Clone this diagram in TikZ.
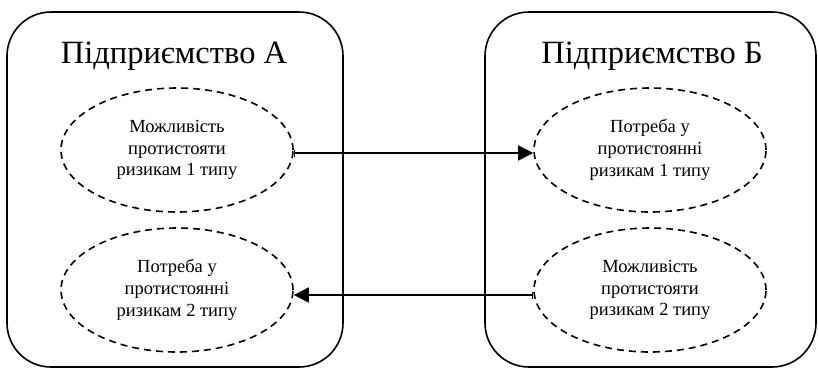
\documentclass[tikz,border=0pt]{standalone}
\usepackage{fontspec}
\setmainfont{Liberation Serif}
\usetikzlibrary{shapes.geometric,arrows.meta}
\begin{document}
\begin{tikzpicture}[x=1pt,y=-1pt,
  firm/.style={draw,line width=1.6pt,rounded corners=44pt},
  title/.style={font=\fontsize{32.5}{38}\selectfont,inner sep=0pt},
  oval/.style={draw,ellipse,dash pattern=on 7pt off 5pt,line width=1.6pt,minimum width=232pt,minimum height=124pt,inner sep=0pt,align=center,font=\fontsize{18.5}{21.7}\selectfont},
  link/.style={line width=1.6pt}
]
\useasboundingbox (0,0) rectangle (818,368);
\draw[firm] (7,12) rectangle (343,367);
\draw[firm] (485,12) rectangle (816,367);
\node[title] (ta) at (174,56) {Підприємство А};
\node[title] (tb) at (652,56) {Підприємство Б};
\node[oval] (a1) at (177,150) {Можливість\\протистояти\\ризикам 1 типу};
\node[oval] (a2) at (177,290) {Потреба у\\протистоянні\\ризикам 2 типу};
\node[oval] (b1) at (650,150) {Потреба у\\протистоянні\\ризикам 1 типу};
\node[oval] (b2) at (650,290) {Можливість\\протистояти\\ризикам 2 типу};
\draw[link,{Bar[width=7pt]}-{Triangle[length=15pt,width=15pt]}] (a1.east |- 0,153) -- (b1.west |- 0,153);
\draw[link,{Bar[width=7pt]}-{Triangle[length=15pt,width=15pt]}] (b2.west |- 0,295) -- (a2.east |- 0,295);
\end{tikzpicture}
\end{document}
